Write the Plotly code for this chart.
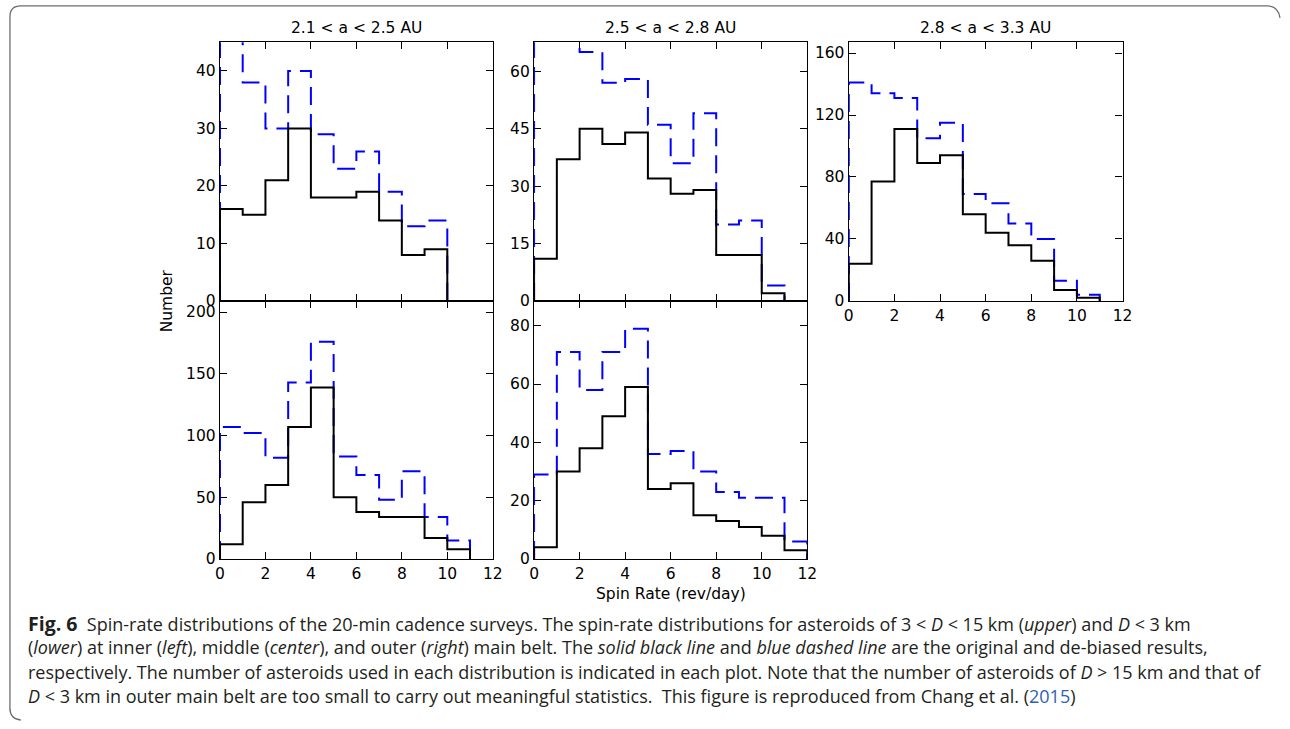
import plotly.graph_objects as go

W, H = 1290, 729

# ---------------- data (bin counts per 1 rev/day bin, starting at 0) ----------------
bin_width = 1
titles = ["2.1 &lt; a &lt; 2.5 AU", "2.5 &lt; a &lt; 2.8 AU", "2.8 &lt; a &lt; 3.3 AU"]

# upper row: 3 < D < 15 km
inner_upper_orig = [16, 15, 21, 30, 18, 18, 19, 14, 8, 9]
inner_upper_debias = [50, 38, 30, 40, 29, 23, 26, 19, 13, 14]
middle_upper_orig = [11, 37, 45, 41, 44, 32, 28, 29, 12, 12, 2]
middle_upper_debias = [80, 74, 65, 57, 58, 46, 36, 49, 20, 21, 4]
outer_upper_orig = [24, 77, 111, 89, 94, 56, 44, 36, 26, 7, 2]
outer_upper_debias = [141, 134, 131, 105, 115, 69, 63, 50, 40, 13, 4]

# lower row: D < 3 km
inner_lower_orig = [12, 46, 60, 107, 139, 50, 38, 34, 34, 17, 8]
inner_lower_debias = [107, 102, 82, 143, 176, 83, 68, 48, 71, 34, 15]
middle_lower_orig = [4, 30, 38, 49, 59, 24, 26, 15, 13, 11, 8, 3]
middle_lower_debias = [29, 71, 58, 71, 79, 36, 37, 30, 23, 21, 21, 6]

y_max = {"tl": 45, "tm": 67.6, "tr": 167, "bl": 209, "bm": 88.5}
y_dtick = {"tl": 10, "tm": 15, "tr": 40, "bl": 50, "bm": 20}
x_ticks = [0, 2, 4, 6, 8, 10, 12]

# ---------------- layout geometry (pixels) ----------------
cols_px = [(217.5, 493.5), (535.3, 811.7), (853.7, 1130.7)]
rows_px = [(42.7, 304.7), (304.7, 566.0)]


def xdom(c):
    a, b = cols_px[c]
    return [a / W, b / W]


def ydom(r):
    a, b = rows_px[r]
    return [1 - b / H, 1 - a / H]


def step_xy(values):
    edges = [i * bin_width for i in range(len(values) + 1)]
    xs = [edges[0]] + edges
    ys = [0] + list(values) + [0]
    return xs, ys


panels = [
    ("tl", 0, 0, inner_upper_orig, inner_upper_debias, False),
    ("tm", 0, 1, middle_upper_orig, middle_upper_debias, False),
    ("tr", 0, 2, outer_upper_orig, outer_upper_debias, True),
    ("bl", 1, 0, inner_lower_orig, inner_lower_debias, True),
    ("bm", 1, 1, middle_lower_orig, middle_lower_debias, True),
]

fig = go.Figure()
tickfont = dict(family="DejaVu Sans", size=15.5, color="#000")

for i, (key, r, c, orig, deb, xlabels) in enumerate(panels):
    n = "" if i == 0 else str(i + 1)
    xa, ya = "x" + n, "y" + n
    xs, ys = step_xy(deb)
    fig.add_trace(go.Scatter(x=xs, y=ys, mode="lines", line_shape="hv",
                             line=dict(color="#0000ff", width=2, dash="18px,9px"),
                             xaxis=xa, yaxis=ya, showlegend=False, hoverinfo="skip"))
    xs, ys = step_xy(orig)
    fig.add_trace(go.Scatter(x=xs, y=ys, mode="lines", line_shape="hv",
                             line=dict(color="#000000", width=2),
                             xaxis=xa, yaxis=ya, showlegend=False, hoverinfo="skip"))
    common = dict(showline=True, linecolor="#000", linewidth=1.4, mirror="ticks",
                  ticks="inside", ticklen=7, tickwidth=1, tickcolor="#000",
                  showgrid=False, zeroline=False, tickfont=tickfont,
                  layer="below traces")
    fig.layout["xaxis" + n] = dict(domain=xdom(c), range=[0, 12], tickvals=x_ticks,
                                   showticklabels=xlabels, anchor=ya, **common)
    fig.layout["yaxis" + n] = dict(domain=ydom(r), range=[0, y_max[key]],
                                   dtick=y_dtick[key], tick0=0, anchor=xa, **common)

annots = []
title_font = dict(family="DejaVu Sans", size=15.5, color="#000")
for c in range(3):
    a, b = cols_px[c]
    annots.append(dict(text=titles[c], x=(a + b) / 2 / W, y=1 - 28 / H, xref="paper",
                       yref="paper", showarrow=False, xanchor="center", yanchor="middle",
                       font=title_font))
annots.append(dict(text="Number", x=164 / W, y=1 - 305 / H, xref="paper", yref="paper",
                   showarrow=False, textangle=-90, xanchor="center", yanchor="middle",
                   font=title_font))
annots.append(dict(text="Spin Rate (rev/day)", x=(cols_px[1][0] + cols_px[1][1]) / 2 / W,
                   y=1 - 601 / H, xref="paper", yref="paper", showarrow=False,
                   xanchor="center", yanchor="middle", font=title_font))

caption_lines = [
    "<b><span style='font-size:19.5px'>Fig. 6</span></b>  Spin-rate distributions of the 20-min cadence surveys. The spin-rate distributions for asteroids of 3 &lt; <i>D</i> &lt; 15 km (<i>upper</i>) and <i>D</i> &lt; 3 km",
    "(<i>lower</i>) at inner (<i>left</i>), middle (<i>center</i>), and outer (<i>right</i>) main belt. The <i>solid black line</i> and <i>blue dashed line</i> are the original and de-biased results,",
    "respectively. The number of asteroids used in each distribution is indicated in each plot. Note that the number of asteroids of <i>D</i> &gt; 15 km and that of",
    "<i>D</i> &lt; 3 km in outer main belt are too small to carry out meaningful statistics.  This figure is reproduced from Chang et al. (<span style='color:#2f5fb3'>2015</span>)",
]
caption_y = [631, 655, 680, 705]
for line, yy in zip(caption_lines, caption_y):
    annots.append(dict(text=line, x=21 / W, y=1 - yy / H, xref="paper", yref="paper",
                       showarrow=False, xanchor="left", yanchor="middle",
                       font=dict(family="Open Sans", size=18, color="#231f20")))

# rounded frame (open at right and bottom edges)
def px(x, y):
    return f"{x / W:.5f},{1 - y / H:.5f}"

frame_path = ("M " + px(5, 720) + " L " + px(5, 17) + " Q " + px(5, 6) + " " + px(16, 6) +
              " L " + px(1277, 6) + " Q " + px(1288, 6) + " " + px(1290, 18) +
              " M " + px(5, 717) + " Q " + px(5, 728) + " " + px(16, 729))

fig.update_layout(
    width=W, height=H, margin=dict(l=0, r=0, t=0, b=0),
    paper_bgcolor="#fff", plot_bgcolor="#fff",
    annotations=annots,
    shapes=[dict(type="path", path=frame_path, xref="paper", yref="paper",
                 line=dict(color="#6d6d6d", width=1.3))],
)

fig.write_html("out.html",
               post_script="document.documentElement.style.margin='0';"
                           "document.body.style.margin='0';"
                           "document.body.style.overflow='hidden';"
                           "document.documentElement.style.overflow='hidden';")
